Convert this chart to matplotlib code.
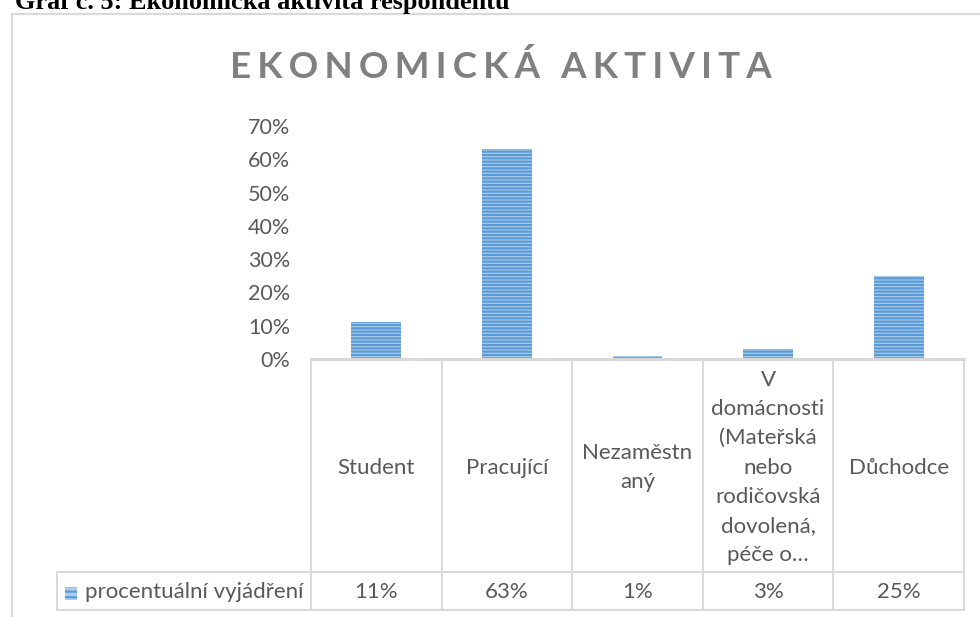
import matplotlib
matplotlib.use("Agg")
import matplotlib.pyplot as plt
from matplotlib.lines import Line2D
from matplotlib.patches import Rectangle
from matplotlib.transforms import blended_transform_factory
import numpy as np

categories = ["Student", "Pracující", "Nezaměstn\naný",
              "V\ndomácnosti\n(Mateřská\nnebo\nrodičovská\ndovolená,\npéče o…",
              "Důchodce"]
values = [0.11, 0.63, 0.01, 0.03, 0.25]
value_labels = ["11%", "63%", "1%", "3%", "25%"]
series_name = "procentuální vyjádření"
yticks = [0.0, 0.1, 0.2, 0.3, 0.4, 0.5, 0.6, 0.7]
chart_title = "EKONOMICKÁ AKTIVITA"
caption = "Graf č. 5: Ekonomická aktivita respondentů"

W, H = 980, 617
DPI = 100
FONT = "Lato"
TXT = "#595959"
GRID = "#D9D9D9"
BLUE = "#5B9BD5"
FS = 16

plt.rcParams["hatch.linewidth"] = 1.6
fig = plt.figure(figsize=(W / DPI, H / DPI), dpi=DPI)

def fx(px):
    return px / W

def fy(py):
    return 1 - py / H

# plot area
x0, x1, ytop, ybase = 311, 964, 126, 359
ax = fig.add_axes([fx(x0), fy(ybase), fx(x1) - fx(x0), fy(ytop) - fy(ybase)])
n = len(categories)
x = np.arange(n)
ax.bar(x, values, width=0.38, color="#ADCDEC", edgecolor=BLUE, linewidth=0,
       hatch="-----")
ax.set_xlim(-0.5, n - 0.5)
ax.set_ylim(0, 0.7)
ax.set_yticks(yticks)
ax.set_yticklabels([f"{t:.0%}" for t in yticks], fontsize=15.5, color=TXT,
                   family=FONT)
ax.tick_params(axis="y", length=0, pad=15)
ax.set_xticks([])
for s in ax.spines.values():
    s.set_visible(False)

# data table
bt = blended_transform_factory(ax.transData, fig.transFigure)
lw = 1.4
ax.add_line(Line2D([-0.5, n - 0.5], [fy(ybase), fy(ybase)], transform=bt,
                   color=GRID, lw=2.2, clip_on=False))
row_y, bot_y = 572, 610
for b in np.arange(n + 1) - 0.5:
    ax.add_line(Line2D([b, b], [fy(ybase), fy(bot_y)], transform=bt,
                       color=GRID, lw=lw, clip_on=False))
for yy in (row_y, bot_y):
    fig.add_artist(Line2D([fx(57), fx(x1)], [fy(yy), fy(yy)],
                          transform=fig.transFigure, color=GRID, lw=lw))
fig.add_artist(Line2D([fx(57), fx(57)], [fy(row_y), fy(bot_y)],
                      transform=fig.transFigure, color=GRID, lw=lw))

for i, (c, v) in enumerate(zip(categories, value_labels)):
    ax.text(i, fy((ybase + row_y) / 2 + 2), c, transform=bt, ha="center",
            va="center", fontsize=FS, color=TXT, family=FONT,
            linespacing=1.58, multialignment="center")
    ax.text(i, fy((row_y + bot_y) / 2 + 1), v, transform=bt, ha="center",
            va="center", fontsize=FS, color=TXT, family=FONT)

# legend key
fig.add_artist(Rectangle((fx(65), fy(600)), fx(12), fy(587) - fy(600),
                         transform=fig.transFigure, facecolor="#ADCDEC",
                         edgecolor=BLUE, linewidth=0, hatch="---"))
fig.text(fx(85), fy(592), series_name, ha="left", va="center", fontsize=FS,
         color=TXT, family=FONT)

# chart title (letter-spaced, as in the source)
spaced_title = "\u2006".join(chart_title)
fig.text(fx(501), fy(67), spaced_title, ha="center", va="center",
         fontsize=26.5, fontweight="bold", color="#808080",
         family=[FONT, "DejaVu Sans"])

# chart border
fig.add_artist(Line2D([fx(12), fx(12)], [fy(14), 0], transform=fig.transFigure,
                      color=GRID, lw=1.6))
fig.add_artist(Line2D([fx(12), 1], [fy(14), fy(14)], transform=fig.transFigure,
                      color=GRID, lw=1.6))

# caption above the chart (cut off at top, as in the source)
fig.text(fx(15), fy(9), caption, ha="left", va="baseline", fontsize=18.9,
         fontweight="bold", family="Liberation Serif", color="black")

fig.savefig("out.png", dpi=DPI)
